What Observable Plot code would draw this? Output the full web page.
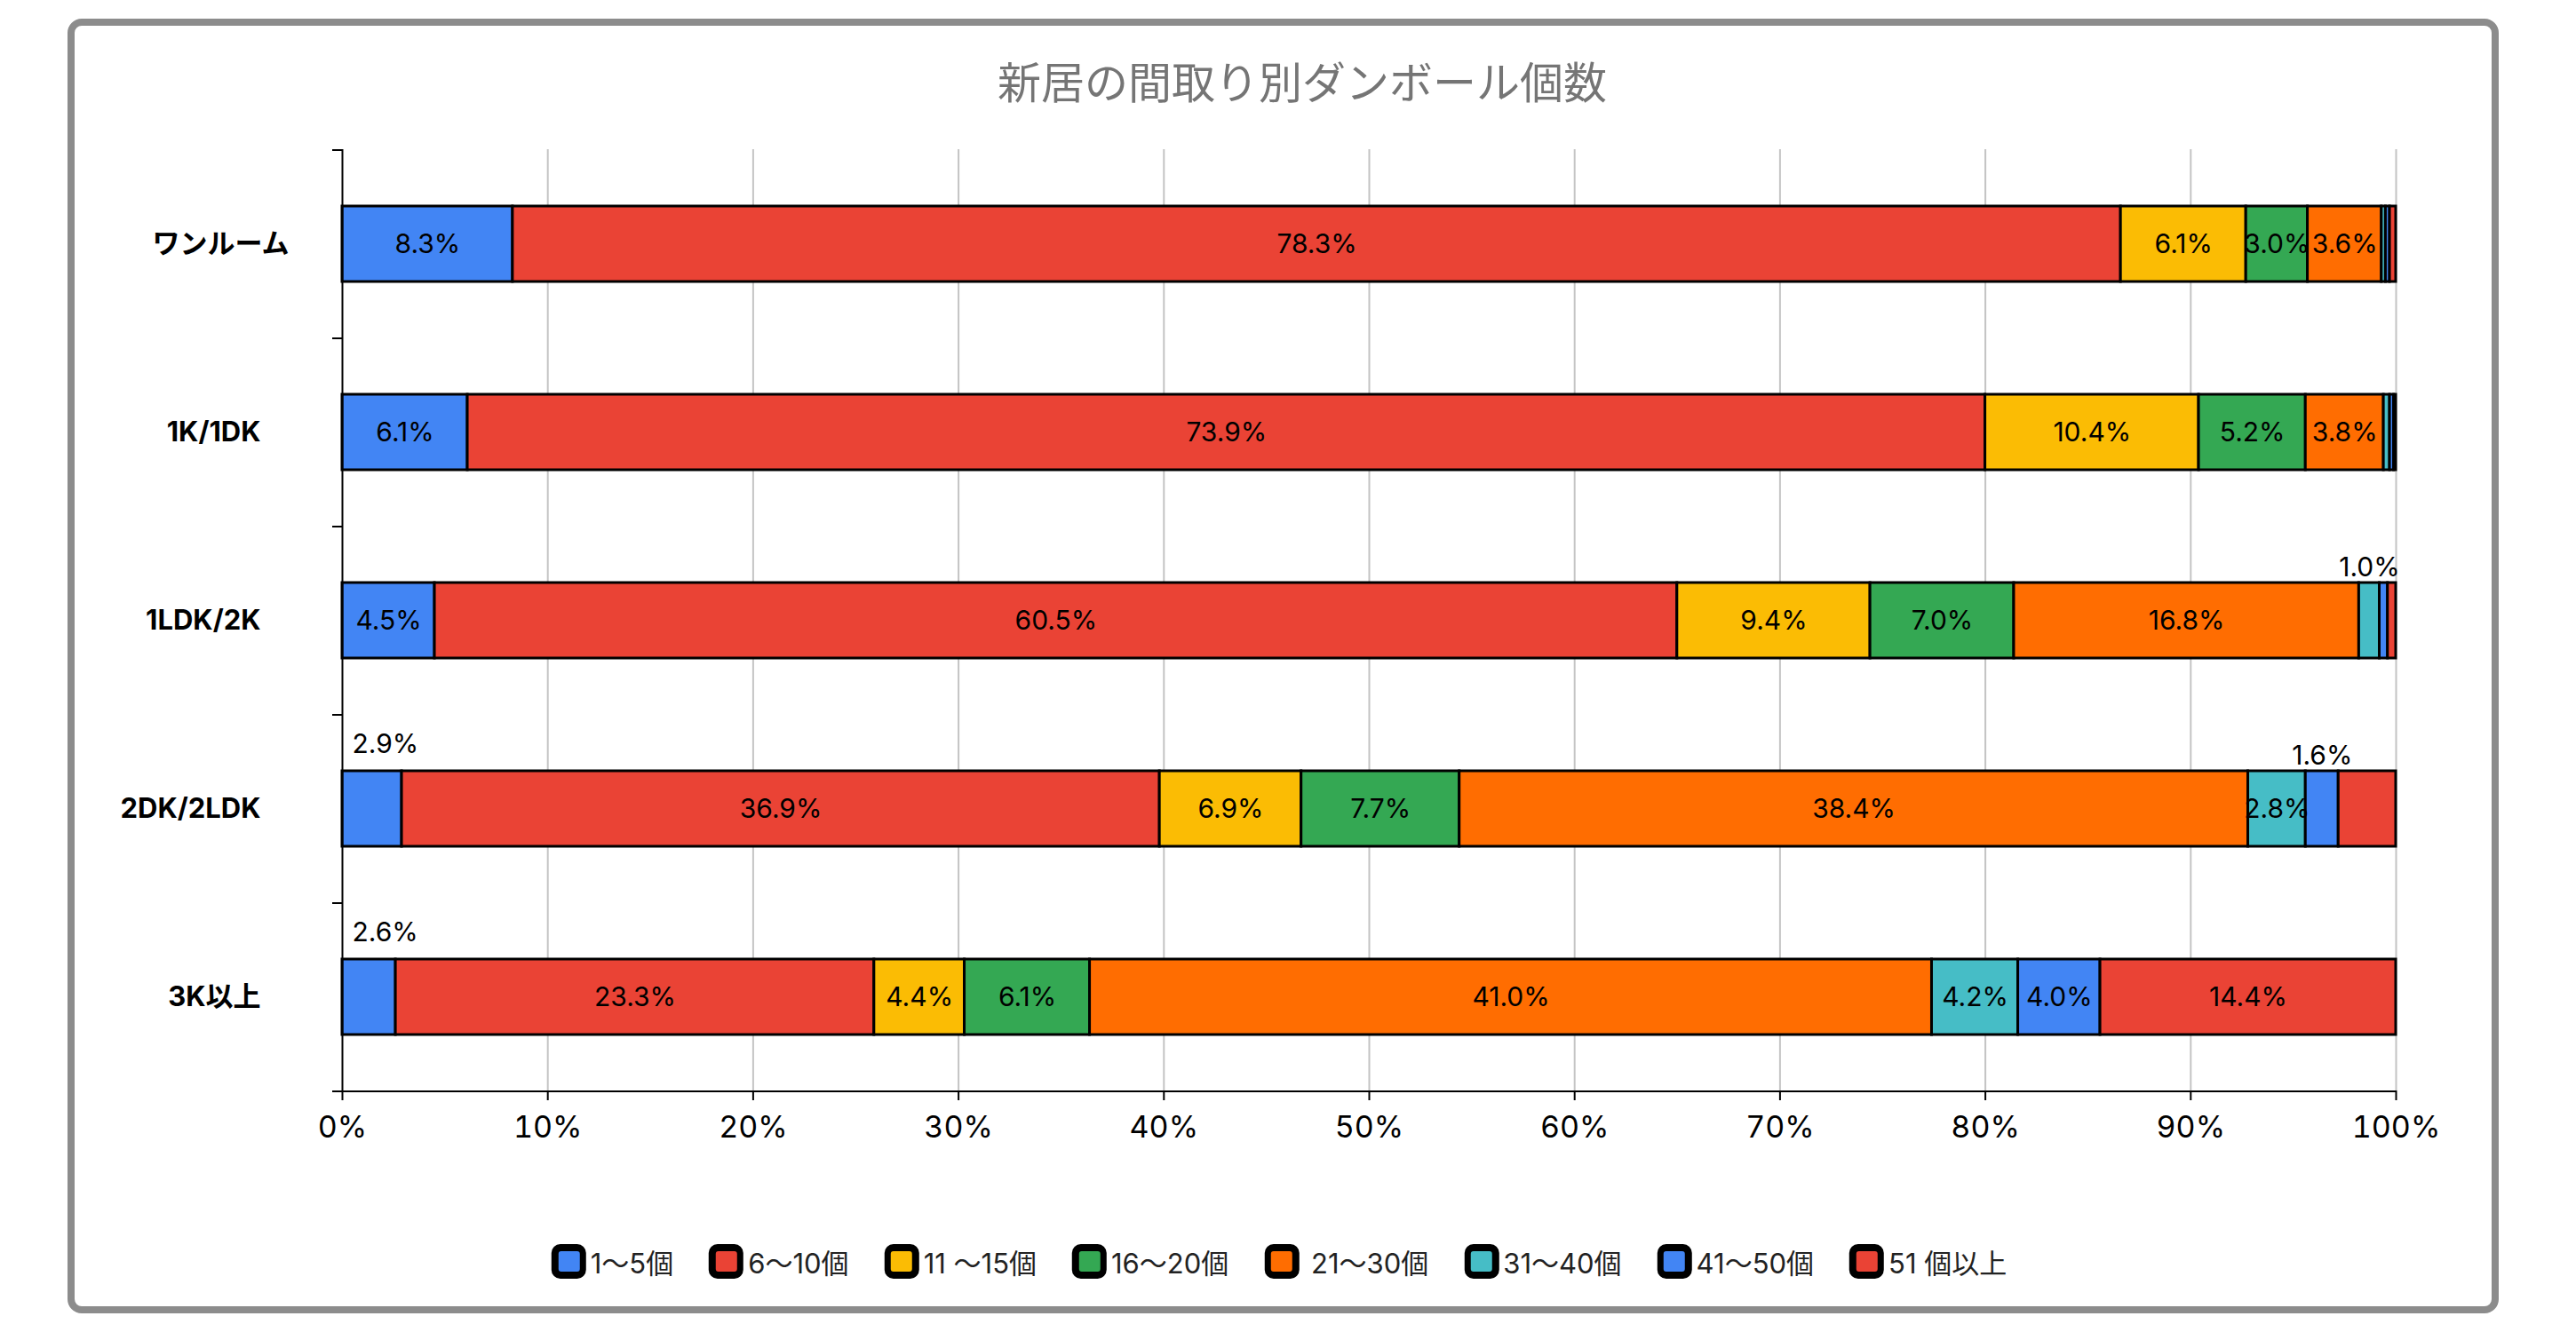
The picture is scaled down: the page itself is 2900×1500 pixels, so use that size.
<!DOCTYPE html>
<html>
<head>
<meta charset="utf-8">
<script src="https://cdn.jsdelivr.net/npm/d3@7"></script>
<script src="https://cdn.jsdelivr.net/npm/@observablehq/plot@0.6"></script>
<style>
  html, body { margin: 0; padding: 0; background: #fff; }
  #page { position: relative; width: 2900px; height: 1500px; overflow: hidden; background: #fff; }
  #frame { position: absolute; left: 76px; top: 21px; width: 2721px; height: 1442px;
           border: 8px solid #8c8c8c; border-radius: 16px; box-sizing: content-box; }
  #title { position: absolute; left: 1466px; top: 60px; transform: translateX(-50%);
           font-family: "Noto Sans CJK JP", "Noto Sans", sans-serif; font-size: 49px; line-height: 60px;
           color: #757575; white-space: nowrap; }
  #chart { position: absolute; left: 0; top: 0; }
  #legend { position: absolute; left: 1440px; top: 1398px; transform: translateX(-50%);
            display: flex; align-items: center; gap: 40px; white-space: nowrap;
            font-family: Inter, "Noto Sans CJK JP", sans-serif; font-size: 31px; color: #222; }
  .item { display: flex; align-items: center; gap: 5px; }
  .sw { width: 39px; height: 39px; background: #000; border-radius: 10px; display: flex;
        align-items: center; justify-content: center; }
  .sw span { display: block; width: 24px; height: 23px; border-radius: 3px; }
  .lab { white-space: pre; }
  svg g[aria-label="y-axis tick label"] text { font-weight: bold; }
</style>
</head>
<body>
<div id="page">
  <div id="frame"></div>
  <div id="title"></div>
  <div id="chart"></div>
  <div id="legend"></div>
</div>
<script>
// ---- data ----
const chartTitle = "新居の間取り別ダンボール個数";
const layouts = ["ワンルーム", "1K/1DK", "1LDK/2K", "2DK/2LDK", "3K以上"];
const seriesNames = ["1〜5個", "6〜10個", "11 〜15個", "16〜20個", " 21〜30個", "31〜40個", "41〜50個", "51 個以上"];
const seriesColors = ["#4285F4", "#EA4335", "#FBBC04", "#34A853", "#FF6D01", "#46BDC6", "#4285F4", "#EA4335"];
// values (%) per series, in layout order
const v1to5   = [8.3, 6.1, 4.5, 2.9, 2.6];
const v6to10  = [78.3, 73.9, 60.5, 36.9, 23.3];
const v11to15 = [6.1, 10.4, 9.4, 6.9, 4.4];
const v16to20 = [3.0, 5.2, 7.0, 7.7, 6.1];
const v21to30 = [3.6, 3.8, 16.8, 38.4, 41.0];
const v31to40 = [0.2, 0.3, 1.0, 2.8, 4.2];
const v41to50 = [0.2, 0.2, 0.4, 1.6, 4.0];
const v51plus = [0.3, 0.1, 0.4, 2.8, 14.4];
const xTicks = [0, 10, 20, 30, 40, 50, 60, 70, 80, 90, 100];
// labels drawn above the bar (layout, series index, anchor)
const labelsAbove = [["1LDK/2K", 5, "middle"], ["2DK/2LDK", 6, "middle"], ["2DK/2LDK", 0, "start"], ["3K以上", 0, "start"]];
// labels not drawn although large enough
const labelsHidden = [["2DK/2LDK", 7]];

// ---- build table ----
const seriesValues = [v1to5, v6to10, v11to15, v16to20, v21to30, v31to40, v41to50, v51plus];
const table = [];
layouts.forEach((layout, i) => {
  let acc = 0;
  seriesValues.forEach((vals, j) => {
    const v = vals[i];
    table.push({layout, series: seriesNames[j], j, value: v, x1: acc, x2: acc + v, mid: acc + v / 2, label: v.toFixed(1) + "%"});
    acc += v;
  });
});
const isAbove = d => labelsAbove.some(([l, j]) => l === d.layout && j === d.j);
const isHidden = d => labelsHidden.some(([l, j]) => l === d.layout && j === d.j);
const inside = table.filter(d => d.value >= 1 && !isAbove(d) && !isHidden(d));
const aboveMid = table.filter(d => labelsAbove.some(([l, j, a]) => l === d.layout && j === d.j && a === "middle"));
const aboveStart = table.filter(d => labelsAbove.some(([l, j, a]) => l === d.layout && j === d.j && a === "start"));

const font = "Inter, 'Noto Sans CJK JP', sans-serif";
const halfStep = 106;

const plot = Plot.plot({
  width: 2900,
  height: 1320,
  marginLeft: 385,
  marginRight: 203,
  marginTop: 168,
  marginBottom: 92,
  style: {fontFamily: font, fontSize: "30px", color: "#000", background: "transparent"},
  x: {domain: [0, 100], axis: null},
  y: {domain: layouts, paddingInner: 0.6, paddingOuter: 0.3, axis: null},
  color: {type: "ordinal", domain: seriesNames, range: seriesColors},
  marks: [
    Plot.ruleX(xTicks.slice(1), {stroke: "#c4c4c4", strokeWidth: 2}),
    Plot.barX(table, {x1: "x1", x2: "x2", y: "layout", fill: "series", stroke: "#000", strokeWidth: 3}),
    Plot.ruleX([0], {stroke: "#000", strokeWidth: 2}),
    Plot.ruleY(layouts, {y: d => d, x1: 0, x2: 0, insetLeft: -11, dy: -halfStep, stroke: "#000", strokeWidth: 2}),
    Plot.ruleY(layouts.slice(-1), {y: d => d, x1: 0, x2: 100, insetLeft: -11, dy: halfStep, stroke: "#000", strokeWidth: 2}),
    Plot.text(inside, {x: "mid", y: "layout", text: "label", fill: "#000", fontSize: 30, fontFamily: font}),
    Plot.text(aboveMid, {x: "mid", y: "layout", text: "label", fill: "#000", fontSize: 30, fontFamily: font, dy: -60}),
    Plot.text(aboveStart, {x: "x1", y: "layout", text: "label", fill: "#000", fontSize: 30, fontFamily: font, textAnchor: "start", dx: 11, dy: -73}),
    Plot.axisX({ticks: xTicks, tickSize: 11, tickPadding: 17, tickFormat: d => d + "%", fontSize: 34, stroke: "#000", strokeWidth: 2, fill: "#000"}),
    Plot.axisY({ticks: layouts.slice(0, 1), label: null, tickSize: 0, tickPadding: 60, fontSize: 31, fontWeight: "bold", fill: "#000"}),
    Plot.axisY({ticks: layouts.slice(1), label: null, tickSize: 0, tickPadding: 92, fontSize: 31, fontWeight: "bold", fill: "#000"})
  ]
});
document.getElementById("chart").appendChild(plot);
document.getElementById("title").textContent = chartTitle;

const legend = document.getElementById("legend");
seriesNames.forEach((name, j) => {
  const item = document.createElement("div");
  item.className = "item";
  const sw = document.createElement("div");
  sw.className = "sw";
  const inner = document.createElement("span");
  inner.style.background = seriesColors[j];
  sw.appendChild(inner);
  const lab = document.createElement("span");
  lab.className = "lab";
  lab.textContent = name;
  item.appendChild(sw);
  item.appendChild(lab);
  legend.appendChild(item);
});
</script>
</body>
</html>
